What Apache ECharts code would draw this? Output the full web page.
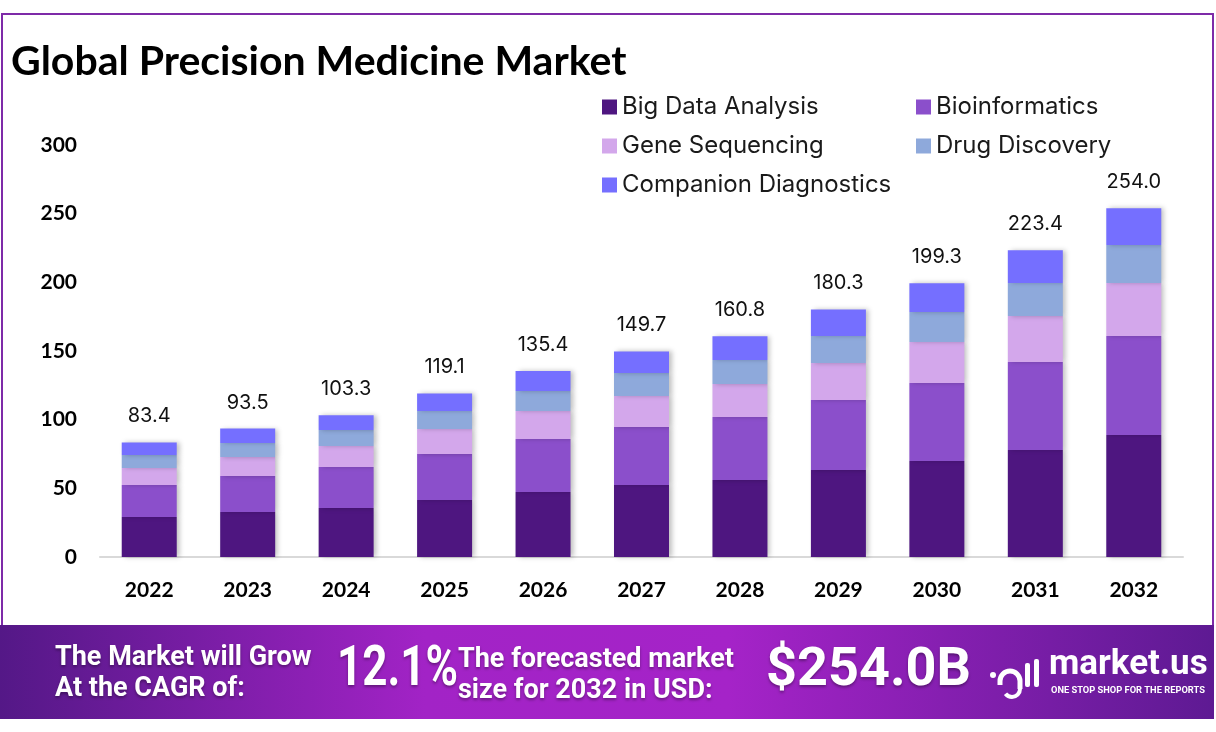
<!DOCTYPE html>
<html><head><meta charset="utf-8">
<script src="https://cdn.jsdelivr.net/npm/echarts@6/dist/echarts.min.js"></script>
<style>html,body{margin:0;padding:0;background:#fff}#c{width:1216px;height:732px}</style>
</head><body><div id="c"></div>
<script>
const years = ['2022','2023','2024','2025','2026','2027','2028','2029','2030','2031','2032'];
const bigData = [29.1, 32.8, 35.7, 41.5, 47.3, 52.4, 56.1, 63.4, 69.9, 77.9, 88.8];
const bioinformatics = [23.3, 26.2, 29.8, 33.5, 38.6, 42.3, 45.8, 50.9, 56.8, 64.1, 72.1];
const geneSequencing = [12.4, 13.8, 15.3, 18.2, 20.4, 22.5, 24.1, 27.0, 29.9, 33.5, 38.6];
const drugDiscovery = [9.5, 10.2, 11.7, 13.1, 14.6, 16.8, 17.4, 19.6, 21.8, 24.0, 27.7];
const companionDx = [9.1, 10.5, 10.8, 12.8, 14.5, 15.7, 17.4, 19.4, 20.9, 23.9, 26.8];
const totals = ['83.4','93.5','103.3','119.1','135.4','149.7','160.8','180.3','199.3','223.4','254.0'];
const seriesNames = ['Big Data Analysis','Bioinformatics','Gene Sequencing','Drug Discovery','Companion Diagnostics'];
const colors = ['#4E1680','#8B4FCB','#D3A7EB','#8EA9DB','#756FFF'];

const chart = echarts.init(document.getElementById('c'), null, {renderer:'canvas'});
const seriesData = [bigData, bioinformatics, geneSequencing, drugDiscovery, companionDx];
const series = seriesData.map((d, i) => ({
  name: seriesNames[i], type: 'bar', stack: 'total', data: d, barWidth: 55,
  itemStyle: {color: colors[i], shadowColor: 'rgba(0,0,0,0.25)', shadowBlur: 5, shadowOffsetX: 3},
  label: i === 4 ? {show: true, position: 'top', distance: 16, color: '#111', fontFamily: 'Inter', fontSize: 20,
    formatter: p => totals[p.dataIndex]} : {show: false}
}));
const legendText = {color: '#1a1a1a', fontFamily: 'Inter', fontSize: 24};
const shadow = {textShadowColor: 'rgba(0,0,0,0.35)', textShadowBlur: 3, textShadowOffsetY: 2};
chart.setOption({
  animation: false,
  backgroundColor: '#fff',
  title: {text: 'Global Precision Medicine Market', left: 6, top: 36,
    textStyle: {fontFamily: 'Lato', fontWeight: 'bold', fontSize: 41, color: '#000'}},
  legend: [
    {data: ['Big Data Analysis','Gene Sequencing','Companion Diagnostics'], orient: 'vertical', left: 597, top: 90,
     itemWidth: 15, itemHeight: 15, itemGap: 15, icon: 'rect', textStyle: legendText},
    {data: ['Bioinformatics','Drug Discovery'], orient: 'vertical', left: 911, top: 90,
     itemWidth: 15, itemHeight: 15, itemGap: 15, icon: 'rect', textStyle: legendText}
  ],
  grid: {left: 100, right: 33, top: 145, bottom: 175, containLabel: false},
  xAxis: {type: 'category', data: years, axisTick: {show: false},
    axisLine: {lineStyle: {color: '#d9d9d9', width: 2}},
    axisLabel: {margin: 23, color: '#000', fontFamily: 'Lato', fontWeight: 'bold', fontSize: 21}},
  yAxis: {type: 'value', min: 0, max: 300, interval: 50, splitLine: {show: false},
    axisLine: {show: false}, axisTick: {show: false},
    axisLabel: {margin: 23, color: '#000', fontFamily: 'Lato', fontWeight: 'bold', fontSize: 21}},
  series: series,
  graphic: [
    {type: 'rect', silent: true, z: -1, shape: {x: 2, y: 14, width: 1211, height: 612},
     style: {fill: 'none', stroke: '#7E2AA8', lineWidth: 2}},
    {type: 'rect', z: 10, shape: {x: 0, y: 625, width: 1214, height: 94},
     style: {fill: new echarts.graphic.LinearGradient(0, 0, 1, 0, [
       {offset: 0, color: '#541887'}, {offset: 0.35, color: '#A223C6'}, {offset: 0.6, color: '#A523C8'}, {offset: 1, color: '#5E1A93'}])}},
    {type: 'text', z: 11, x: 55, y: 643, style: Object.assign({text: 'The Market will Grow\nAt the CAGR of:', fill: '#fff',
      font: 'bold 27px Roboto', lineHeight: 31}, shadow)},
    {type: 'text', z: 11, x: 337, y: 644, scaleX: 0.8, style: Object.assign({text: '12.1%', fill: '#fff',
      font: 'bold 55px Roboto'}, shadow)},
    {type: 'text', z: 11, x: 458, y: 645, style: Object.assign({text: 'The forecasted market\nsize for 2032 in USD:', fill: '#fff',
      font: 'bold 27px Roboto', lineHeight: 31}, shadow)},
    {type: 'text', z: 11, x: 766, y: 644, style: Object.assign({text: '$254.0B', fill: '#fff',
      font: 'bold 54px Roboto'}, shadow)},
    {type: 'group', x: 988, y: 655, children: [
      {type: 'circle', z: 12, shape: {cx: 5, cy: 20, r: 3}, style: {fill: '#fff'}},
      {type: 'arc', z: 12, shape: {cx: 22, cy: 26, r: 10, startAngle: Math.PI, endAngle: 2 * Math.PI}, style: {stroke: '#fff', lineWidth: 5, fill: 'none'}},
      {type: 'line', z: 12, shape: {x1: 12, y1: 26, x2: 12, y2: 30}, style: {stroke: '#fff', lineWidth: 5}},
      {type: 'line', z: 12, shape: {x1: 32, y1: 26, x2: 32, y2: 34}, style: {stroke: '#fff', lineWidth: 5}},
      {type: 'arc', z: 12, shape: {cx: 24, cy: 34, r: 8, startAngle: 0, endAngle: Math.PI * 0.8}, style: {stroke: '#fff', lineWidth: 4, fill: 'none'}},
      {type: 'rect', z: 12, shape: {x: 37, y: 8, width: 5, height: 24, r: 2}, style: {fill: '#fff'}},
      {type: 'rect', z: 12, shape: {x: 46, y: 4, width: 5, height: 28, r: 2}, style: {fill: '#fff'}}
    ]},
    {type: 'text', z: 11, x: 1049, y: 648, style: {text: 'market.us', fill: '#fff', font: 'bold 35px Roboto'}},
    {type: 'text', z: 11, x: 1051, y: 686, style: {text: 'ONE STOP SHOP FOR THE REPORTS', fill: '#fff', font: 'bold 9.3px Roboto'}}
  ]
});
</script></body></html>
